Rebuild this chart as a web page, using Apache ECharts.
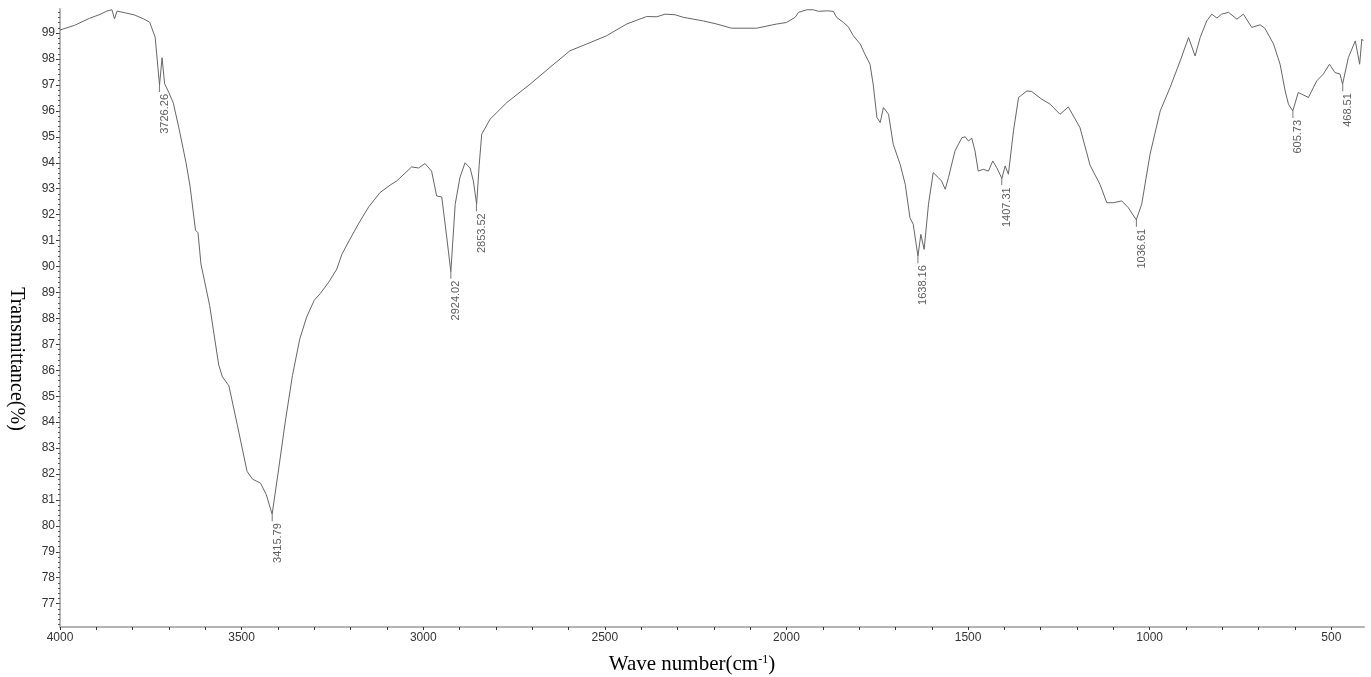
<!DOCTYPE html>
<html>
<head>
<meta charset="utf-8">
<script src="https://cdn.jsdelivr.net/npm/echarts@6/dist/echarts.min.js"></script>
<style>
  html, body { margin: 0; padding: 0; background: #fff; }
  #ftir { width: 1371px; height: 677px; }
</style>
</head>
<body>
<div id="ftir"></div>
<script>
// spectrum (wave number, %T)
var waveNumbers = [4000, 3960, 3919, 3890, 3871, 3857, 3850, 3843, 3820, 3795, 3770, 3753, 3738, 3726, 3719, 3712, 3700, 3688, 3672, 3653, 3642, 3627, 3620, 3612, 3588, 3563, 3553, 3535, 3512, 3485, 3470, 3448, 3432, 3416, 3400, 3380, 3360, 3340, 3321, 3300, 3284, 3260, 3238, 3224, 3200, 3174, 3150, 3119, 3090, 3073, 3050, 3032, 3013, 2995, 2977, 2963, 2949, 2935, 2924, 2912, 2899, 2885, 2871, 2862, 2853, 2846, 2839, 2816, 2770, 2706, 2651, 2596, 2550, 2495, 2440, 2385, 2357, 2334, 2307, 2284, 2229, 2192, 2151, 2082, 2027, 2000, 1976, 1967, 1944, 1926, 1912, 1889, 1871, 1862, 1843, 1830, 1816, 1797, 1784, 1770, 1761, 1751, 1742, 1733, 1719, 1706, 1687, 1673, 1660, 1651, 1638, 1630, 1621, 1609, 1596, 1582, 1573, 1563, 1554, 1536, 1517, 1508, 1499, 1490, 1481, 1472, 1458, 1444, 1432, 1421, 1407, 1398, 1389, 1375, 1361, 1338, 1325, 1297, 1274, 1247, 1224, 1192, 1164, 1137, 1118, 1100, 1077, 1059, 1037, 1022, 999, 971, 944, 916, 893, 875, 861, 843, 829, 815, 802, 783, 760, 742, 719, 696, 683, 659, 641, 627, 618, 606, 591, 563, 540, 522, 505, 490, 476, 469, 453, 434, 422, 416, 412];
var transmittance = [99.12, 99.3, 99.57, 99.72, 99.85, 99.9, 99.55, 99.85, 99.78, 99.7, 99.55, 99.42, 98.84, 97.0, 98.05, 97.05, 96.7, 96.3, 95.3, 94.0, 93.1, 91.4, 91.3, 90.1, 88.5, 86.2, 85.75, 85.4, 83.9, 82.1, 81.8, 81.65, 81.2, 80.45, 82.0, 84.0, 85.8, 87.2, 88.05, 88.7, 88.95, 89.4, 89.9, 90.47, 91.1, 91.75, 92.3, 92.85, 93.15, 93.3, 93.6, 93.84, 93.8, 93.97, 93.68, 92.72, 92.68, 91.1, 89.8, 92.4, 93.43, 94.0, 93.8, 93.3, 92.4, 93.9, 95.1, 95.68, 96.32, 97.03, 97.68, 98.32, 98.58, 98.9, 99.35, 99.64, 99.63, 99.73, 99.71, 99.61, 99.47, 99.35, 99.19, 99.19, 99.35, 99.41, 99.61, 99.8, 99.9, 99.9, 99.84, 99.86, 99.84, 99.61, 99.41, 99.25, 98.9, 98.58, 98.19, 97.8, 97.0, 95.75, 95.55, 96.13, 95.87, 94.71, 93.94, 93.17, 91.88, 91.63, 90.4, 91.24, 90.66, 92.4, 93.62, 93.43, 93.3, 92.98, 93.43, 94.46, 94.97, 95.0, 94.84, 94.95, 94.46, 93.68, 93.75, 93.68, 94.07, 93.81, 93.4, 93.88, 93.56, 95.23, 96.52, 96.77, 96.75, 96.45, 96.26, 95.87, 96.15, 95.36, 93.9, 93.17, 92.46, 92.46, 92.53, 92.27, 91.8, 92.4, 94.33, 96.0, 96.9, 97.93, 98.83, 98.12, 98.83, 99.47, 99.73, 99.58, 99.73, 99.8, 99.54, 99.73, 99.22, 99.32, 99.19, 98.58, 97.8, 96.77, 96.26, 96.0, 96.71, 96.52, 97.16, 97.42, 97.8, 97.48, 97.42, 97.03, 98.06, 98.7, 97.8, 98.77, 98.7];

// marked peaks
var peakWn = [3726.26, 3415.79, 2924.02, 2853.52, 1638.16, 1407.31, 1036.61, 605.73, 468.51];
var peakT = [97.0, 80.45, 89.8, 92.4, 90.4, 93.4, 91.8, 96.0, 97.03];

// axis labels
var xTickLabels = [4000, 3500, 3000, 2500, 2000, 1500, 1000, 500];
var yTickLabels = [77, 78, 79, 80, 81, 82, 83, 84, 85, 86, 87, 88, 89, 90, 91, 92, 93, 94, 95, 96, 97, 98, 99];

var xMinorTicks = [];
for (var v = 500; v <= 4000; v += 100) xMinorTicks.push(v);
var yMinorTicks = [];
for (var k = 762; k <= 999; k += 2) yMinorTicks.push(k / 10);

var spectrum = waveNumbers.map(function (w, i) { return [w, transmittance[i]]; });
var peaks = peakWn.map(function (w, i) { return [w, peakT[i]]; });

var dom = document.getElementById('ftir');
var myChart = echarts.init(dom, null, { renderer: 'canvas' });

var option = {
  animation: false,
  backgroundColor: '#fff',
  grid: { left: 60, right: 7, top: 9, bottom: 50, containLabel: false, outerBoundsMode: 'none' },
  xAxis: {
    type: 'value',
    inverse: true,
    min: 410,
    max: 4000,
    name: 'Wave number(cm{sup|-1})',
    nameLocation: 'middle',
    nameGap: 27,
    nameTextStyle: {
      fontFamily: 'Liberation Serif',
      fontSize: 21,
      color: '#000',
      padding: [0, 40, 0, 0],
      rich: {
        sup: { fontFamily: 'Liberation Serif', fontSize: 12, verticalAlign: 'top', color: '#000' }
      }
    },
    axisLine: { show: true, lineStyle: { color: '#b4b4b4', width: 2 } },
    axisTick: { show: true, customValues: xMinorTicks, length: 3, lineStyle: { color: '#333' } },
    axisLabel: {
      customValues: xTickLabels,
      fontSize: 12,
      color: '#333',
      margin: 5,
      fontFamily: 'Liberation Sans',
      formatter: function (val) { return String(val); }
    },
    splitLine: { show: false }
  },
  yAxis: [
    {
      type: 'value',
      min: 76.1,
      max: 99.93,
      name: 'Transmittance(%)',
      nameLocation: 'middle',
      nameRotate: -90,
      nameGap: 34,
      nameTextStyle: {
        fontFamily: 'Liberation Serif',
        fontSize: 20,
        color: '#000',
        padding: [0, 0, 0, 82]
      },
      axisLine: { show: true, lineStyle: { color: '#b4b4b4', width: 2 } },
      axisTick: { show: true, customValues: yTickLabels, length: 4, lineStyle: { color: '#333' } },
      axisLabel: { customValues: yTickLabels, fontSize: 12, color: '#333', margin: 5, fontFamily: 'Liberation Sans' },
      splitLine: { show: false }
    },
    {
      type: 'value',
      min: 76.1,
      max: 99.93,
      position: 'left',
      axisLine: { show: false },
      axisTick: { show: true, customValues: yMinorTicks, length: 2, lineStyle: { color: '#555' } },
      axisLabel: { show: false },
      splitLine: { show: false }
    }
  ],
  series: [
    {
      name: 'spectrum',
      type: 'line',
      data: spectrum,
      showSymbol: false,
      symbol: 'none',
      lineStyle: { color: '#666', width: 1 },
      z: 3
    },
    {
      name: 'peaks',
      type: 'scatter',
      data: peaks,
      symbol: 'rect',
      symbolSize: [1, 7],
      symbolOffset: [0, 3.5],
      itemStyle: { color: '#555' },
      label: {
        show: true,
        position: 'bottom',
        distance: 2,
        rotate: 90,
        align: 'right',
        verticalAlign: 'top',
        fontSize: 11,
        color: '#333',
        fontFamily: 'Liberation Sans',
        formatter: function (p) { return peakWn[p.dataIndex].toFixed(2); }
      },
      z: 4
    }
  ]
};

myChart.setOption(option);
window.addEventListener('resize', myChart.resize);
</script>
</body>
</html>
